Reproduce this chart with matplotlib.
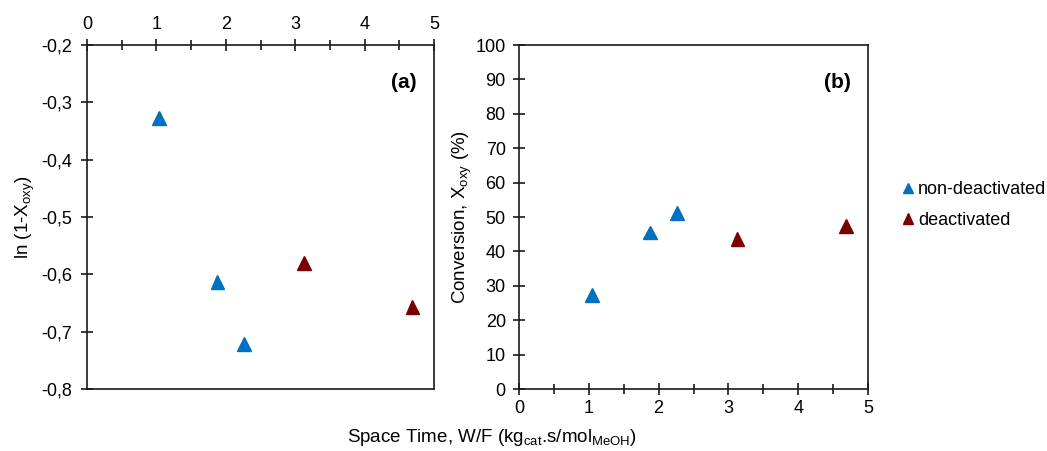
import matplotlib
matplotlib.use("Agg")
import matplotlib.pyplot as plt
import matplotlib.patheffects as pe
from matplotlib.ticker import FuncFormatter, MultipleLocator

plt.rcParams['font.family'] = ['Liberation Sans', 'DejaVu Sans']
plt.rcParams['mathtext.default'] = 'regular'

# Space time W/F (kg_cat.s/mol_MeOH)
wf_active = [1.04, 1.88, 2.26]
wf_deact = [3.13, 4.69]

# ln(1 - X_oxy)
ln_active = [-0.327, -0.613, -0.722]
ln_deact = [-0.581, -0.657]

# Conversion X_oxy (%)
conv_active = [27.3, 45.5, 51.1]
conv_deact = [43.6, 47.5]

BLUE = '#0070C0'
DARKRED = '#7A0000'

W, H = 1047, 451
fig = plt.figure(figsize=(W / 100, H / 100), dpi=100)

def px_axes(x0, y0, x1, y1):
    return fig.add_axes([x0 / W, 1 - y1 / H, (x1 - x0) / W, (y1 - y0) / H])

ax_a = px_axes(87, 45, 434, 389)
ax_b = px_axes(519, 45, 868, 389)

shadow = [pe.SimpleLineShadow(offset=(0.8, -1.8), shadow_color='black', alpha=0.25, linewidth=0),
          pe.Normal()]

def style(ax):
    for s in ax.spines.values():
        s.set_linewidth(1.2)
        s.set_color('#1a1a1a')
    ax.tick_params(which='both', direction='inout', width=1.2, color='#1a1a1a',
                   labelsize=13)
    ax.tick_params(which='major', length=9)
    ax.tick_params(which='minor', length=7)

comma = FuncFormatter(lambda v, p: f"{v:.1f}".replace('.', ','))

# Panel (a)
style(ax_a)
ax_a.plot(wf_active, ln_active, '^', color=BLUE, ms=10, ls='none', zorder=3)
ax_a.plot(wf_deact, ln_deact, '^', color=DARKRED, ms=10, ls='none', zorder=3)
ax_a.set_xlim(0, 5)
ax_a.set_ylim(-0.8, -0.2)
ax_a.xaxis.tick_top()
ax_a.xaxis.set_major_locator(MultipleLocator(1))
ax_a.xaxis.set_minor_locator(MultipleLocator(0.5))
ax_a.yaxis.set_major_locator(MultipleLocator(0.1))
ax_a.yaxis.set_major_formatter(comma)
ax_a.tick_params(axis='x', pad=4)
ax_a.tick_params(axis='y', pad=6)
ax_a.set_ylabel('ln (1-X$_{oxy}$)', fontsize=13.5, labelpad=3)
ax_a.text(0.95, 0.89, '(a)', transform=ax_a.transAxes, ha='right', va='center',
          fontsize=15, fontweight='bold')

# Panel (b)
style(ax_b)
ax_b.plot(wf_active, conv_active, '^', color=BLUE, ms=10, ls='none', zorder=3,
          label='non-deactivated')
ax_b.plot(wf_deact, conv_deact, '^', color=DARKRED, ms=10, ls='none', zorder=3,
          label='deactivated')
ax_b.set_xlim(0, 5)
ax_b.set_ylim(0, 100)
ax_b.xaxis.set_major_locator(MultipleLocator(1))
ax_b.xaxis.set_minor_locator(MultipleLocator(0.5))
ax_b.yaxis.set_major_locator(MultipleLocator(10))
ax_b.tick_params(axis='y', pad=5)
ax_b.set_ylabel('Conversion, X$_{oxy}$ (%)', fontsize=13.5, labelpad=1)
ax_b.text(0.95, 0.89, '(b)', transform=ax_b.transAxes, ha='right', va='center',
          fontsize=15, fontweight='bold')

for ax in (ax_a, ax_b):
    for ln in ax.lines:
        ln.set_path_effects(shadow)

leg = fig.legend(loc='upper left', bbox_to_anchor=(883 / W, 1 - 165 / H),
                 frameon=False, fontsize=13, handletextpad=0.05,
                 handlelength=1.0, markerscale=0.75, labelspacing=0.75)

fig.text(492 / W, 1 - 438 / H, 'Space Time, W/F (kg$_{cat}$.s/mol$_{MeOH}$)',
         ha='center', va='center', fontsize=13.5)

fig.savefig('out.png', dpi=100)
